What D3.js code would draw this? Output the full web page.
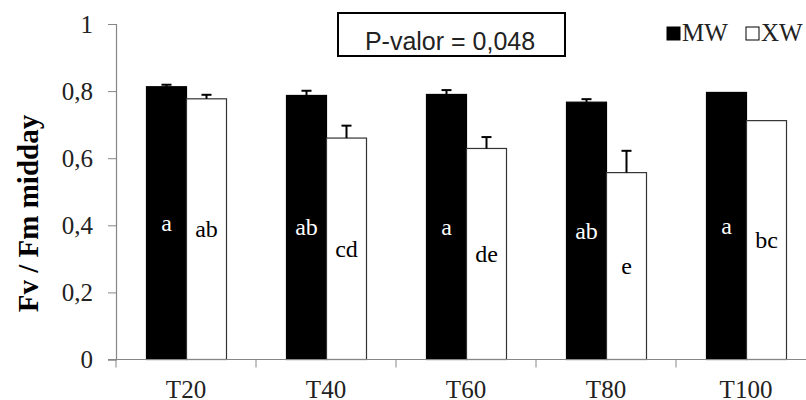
<!DOCTYPE html>
<html>
<head>
<meta charset="utf-8">
<script src="https://cdn.jsdelivr.net/npm/d3@7"></script>
<style>
  body { margin: 0; background: white; }
  svg { display: block; }
</style>
</head>
<body>
<svg id="chart" width="806" height="400"></svg>
<script>
// data
const categories = ["T20", "T40", "T60", "T80", "T100"];
const series = ["MW", "XW"];
const mwValues = [0.813, 0.787, 0.79, 0.767, 0.796];
const mwErrors = [0.006, 0.014, 0.013, 0.009, 0];
const xwValues = [0.777, 0.66, 0.629, 0.557, 0.712];
const xwErrors = [0.012, 0.037, 0.034, 0.065, 0];
const mwLetters = ["a", "ab", "a", "ab", "a"];
const xwLetters = ["ab", "cd", "de", "e", "bc"];
const yTicks = [0, 0.2, 0.4, 0.6, 0.8, 1];
const pText = "P-valor = 0,048";

const svg = d3.select("#chart");
const serif = "'Liberation Serif', 'Times New Roman', serif";
const axisColor = "#868686";

const left = 116;
const bottom = 359.5;

const xScale = d3.scaleBand().domain(categories).range([left, left + 700]);
const inner = d3.scaleBand().domain(series).range([30.5, 110.5]);
const yScale = d3.scaleLinear().domain([0, 1]).range([bottom, 24]);

// rows for the bars
const rows = [];
categories.forEach((c, i) => {
  rows.push({ c, s: "MW", v: mwValues[i], e: mwErrors[i], t: mwLetters[i] });
  rows.push({ c, s: "XW", v: xwValues[i], e: xwErrors[i], t: xwLetters[i] });
});
const barX = (d) => xScale(d.c) + inner(d.s);

// y axis
const yAxis = svg
  .append("g")
  .attr("transform", `translate(${left},0)`)
  .call(
    d3.axisLeft(yScale)
      .tickValues(yTicks)
      .tickSize(8)
      .tickPadding(15)
      .tickFormat((d) => String(d).replace(".", ","))
  );
yAxis.select(".domain").attr("stroke", axisColor).attr("stroke-width", 1.2);
yAxis.selectAll(".tick line").attr("stroke", axisColor);
yAxis
  .selectAll(".tick text")
  .attr("fill", "#222")
  .attr("font-family", serif)
  .attr("font-size", 25);

// bars
svg
  .selectAll("rect.bar")
  .data(rows)
  .join("rect")
  .attr("class", "bar")
  .attr("x", barX)
  .attr("y", (d) => yScale(d.v))
  .attr("width", inner.bandwidth())
  .attr("height", (d) => bottom - yScale(d.v))
  .attr("fill", (d) => (d.s === "MW" ? "black" : "white"))
  .attr("stroke", (d) => (d.s === "MW" ? "black" : "#333"))
  .attr("stroke-width", 1.2);

// error bars (upper half only)
const errs = svg
  .selectAll("g.err")
  .data(rows.filter((d) => d.e > 0))
  .join("g")
  .attr("class", "err")
  .attr("stroke", "black")
  .attr("stroke-width", 2);
errs
  .append("line")
  .attr("x1", (d) => barX(d) + inner.bandwidth() / 2)
  .attr("x2", (d) => barX(d) + inner.bandwidth() / 2)
  .attr("y1", (d) => yScale(d.v))
  .attr("y2", (d) => yScale(d.v + d.e));
errs
  .append("line")
  .attr("x1", (d) => barX(d) + inner.bandwidth() / 2 - 5)
  .attr("x2", (d) => barX(d) + inner.bandwidth() / 2 + 5)
  .attr("y1", (d) => yScale(d.v + d.e))
  .attr("y2", (d) => yScale(d.v + d.e));

// significance letters at half bar height
svg
  .selectAll("text.letter")
  .data(rows)
  .join("text")
  .attr("class", "letter")
  .attr("x", (d) => barX(d) + inner.bandwidth() / 2)
  .attr("y", (d) => yScale(d.v / 2))
  .attr("dy", "0.33em")
  .attr("text-anchor", "middle")
  .attr("font-family", serif)
  .attr("font-size", 24)
  .attr("fill", (d) => (d.s === "MW" ? "white" : "black"))
  .text((d) => d.t);

// x axis
const xAxis = svg
  .append("g")
  .attr("transform", `translate(0,${bottom})`)
  .call(d3.axisBottom(xScale).tickSize(0).tickPadding(21).tickSizeOuter(0));
xAxis.select(".domain").remove();
xAxis
  .append("line")
  .attr("x1", left - 8)
  .attr("x2", left + 700)
  .attr("stroke", axisColor)
  .attr("stroke-width", 1.2);
xAxis
  .selectAll("line.sep")
  .data(categories)
  .join("line")
  .attr("class", "sep")
  .attr("x1", (d) => xScale(d))
  .attr("x2", (d) => xScale(d))
  .attr("y1", 0)
  .attr("y2", 8)
  .attr("stroke", axisColor);
xAxis
  .selectAll(".tick text")
  .attr("fill", "#222")
  .attr("font-family", serif)
  .attr("font-size", 25);

// y axis title
svg
  .append("text")
  .attr("transform", "translate(38,213.5) rotate(-90)")
  .attr("text-anchor", "middle")
  .attr("font-family", serif)
  .attr("font-weight", "bold")
  .attr("font-size", 29)
  .text("Fv / Fm midday");

// p-value box
svg
  .append("rect")
  .attr("x", 338)
  .attr("y", 13)
  .attr("width", 227)
  .attr("height", 43)
  .attr("fill", "white")
  .attr("stroke", "black")
  .attr("stroke-width", 2);
svg
  .append("text")
  .attr("x", 450)
  .attr("y", 50)
  .attr("text-anchor", "middle")
  .attr("font-family", "'Liberation Sans', Arial, sans-serif")
  .attr("font-size", 25)
  .attr("fill", "#222")
  .text(pText);

// legend
const legend = svg
  .selectAll("g.legend")
  .data(series)
  .join("g")
  .attr("class", "legend")
  .attr("transform", (d, i) => `translate(${667 + i * 79},27)`);
legend
  .append("rect")
  .attr("width", 13)
  .attr("height", 13)
  .attr("fill", (d) => (d === "MW" ? "black" : "white"))
  .attr("stroke", "black")
  .attr("stroke-width", 1);
legend
  .append("text")
  .attr("x", 15)
  .attr("y", 14)
  .attr("font-family", serif)
  .attr("font-size", 25)
  .attr("fill", "#222")
  .text((d) => d);
</script>
</body>
</html>
